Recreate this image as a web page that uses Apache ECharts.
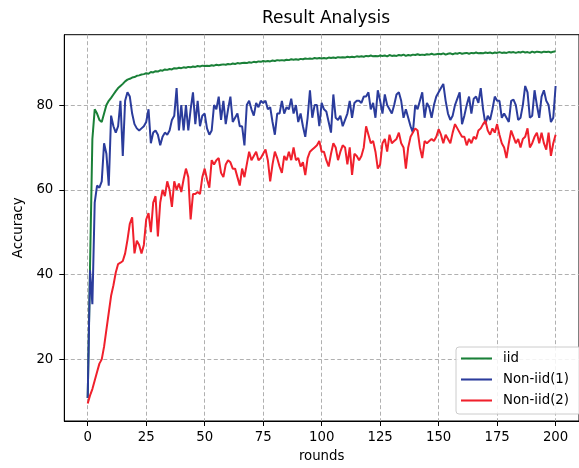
<!DOCTYPE html>
<html><head><meta charset="utf-8">
<script src="https://cdn.jsdelivr.net/npm/echarts@6/dist/echarts.min.js"></script>
<style>html,body{margin:0;padding:0;background:#fff}#c{width:579px;height:468px}</style>
</head><body><div id="c"></div>
<script>
const iid = [10.9,42,72,79,78,76.5,76,78,80,81,81.7,82.5,83.3,84,84.5,85,85.6,86,86.2,86.5,86.6,86.9,87,87.2,87.3,87.5,
87.4,87.8,87.7,88.0,87.9,88.2,88.1,88.4,88.3,88.5,88.4,88.7,88.6,88.8,88.7,88.9,88.8,89.0,88.9,89.1,89.0,89.2,89.1,89.3,89.2,
89.3,89.2,89.4,89.3,89.5,89.4,89.5,89.6,89.5,89.7,89.6,89.8,89.7,89.9,89.8,89.9,90.0,89.9,90.1,90.0,90.2,90.1,90.3,90.2,90.4,
90.3,90.4,90.3,90.5,90.4,90.6,90.5,90.6,90.5,90.7,90.6,90.8,90.7,90.8,90.7,90.9,90.8,91.0,90.9,91.0,90.9,91.1,91.0,91.1,91.0,
91.1,91.0,91.2,91.1,91.2,91.1,91.3,91.2,91.3,91.2,91.4,91.3,91.4,91.3,91.5,91.4,91.5,91.4,91.6,91.5,91.7,91.5,91.6,91.5,91.7,
91.6,91.7,91.5,91.8,91.6,91.7,91.6,91.8,91.7,91.9,91.6,91.8,91.7,91.9,91.8,92.0,91.8,91.9,91.8,92.0,91.9,92.1,91.9,92.0,92.1,
92.0,92.2,91.9,92.1,92.2,92.0,92.2,92.1,92.3,92.1,92.2,92.3,92.1,92.3,92.2,92.4,92.2,92.3,92.2,92.4,92.3,92.4,92.2,92.4,92.3,
92.5,92.3,92.4,92.3,92.5,92.4,92.5,92.3,92.5,92.4,92.6,92.4,92.5,92.3,92.6,92.4,92.6,92.5,92.4,92.6,92.5,92.6,92.4,92.6,92.7];

const nonIid1 = [10.9,41,33,57,61,60.5,62,71,68.5,61,77.5,75,73.5,75,81,68,81,83,82,78,75.5,74.5,74,74.5,75,76,
79,71,73.5,74,73,70.5,72.5,73.5,73,74,76.5,77.5,84,74,80,74,80,74,79,83,75.5,81,75,77.5,78,
74.5,73,74,80,79,82,76.5,81,75.5,79,82,76,77,78,75,75,70.5,80,81,79,77.5,80.5,79.5,81,80.5,
81,79,79.5,76,73,78,78,81,78,79.5,79,81.5,78,80,76,78,75,72.5,77,83.5,77,80,80,75,80.5,
79,78.5,76,73.5,82.5,77,76.5,77.5,75,76.5,78,81,77,80.5,81,81,80.5,82,82,83,79,80.5,77,83.5,81,
78,82.5,80,79,78,80,82.5,83,81,77,79,77,75,73.5,80,79,81,83,77,80.5,79.5,77,80,82,83,
84,85,81,78,76.5,77.5,80,81.5,83,75.5,77.5,80,82,78,81.5,82,80.5,84,79,75.5,77.5,76.5,79,82,81,
81,77,78,77,76,81,81.3,80,76.5,77,80,84.5,83,77,77.5,83.5,80,77,82,83.5,81,80,76,77,84.5];

const nonIid2 = [9.6,11.5,13,15,17,19,20,23,27,31,35,37.5,40.5,42.5,42.8,43.2,45,48.2,52,53.5,45,48,47,45,47,53,
54.5,50,57,58.5,49,57,60,58.5,62,60,56,62,60,61.5,59.5,62.5,65,63,53,59,59,59.5,59,63,65,62.5,60.5,
67,66,67,67.5,64,63,66,67,66.5,65,65,63,61,65,63,66,69,67,68,69,67,67.5,68.5,69.5,67,62,
66,69,67.5,65.5,64,68,67,69,67,70,67,67.5,65.5,66.5,63.5,67.5,69,69.5,70,70.5,71.5,69,69,67,65.5,68.5,71,
70,67,69,70.5,70,66,70,63.5,68.5,68,67,68,70,75,73,71,71.5,69,65,66,71,72,69,73,71,71.5,72,73.5,71,70,
65,70,72.5,73.5,74.5,74,70,67.5,71.5,71,71.5,72,71.5,72.5,74.3,73,71,73,72,71,73.5,75.5,74.5,73.5,72.5,72.5,70.5,
72,71,72.5,72,74,74.5,75.5,76.3,74,73,74.5,73.5,75.5,73,71,70,67.5,71,74,72.5,71,72,70,72,72.5,74.5,70,71,72.5,73.5,71,73.5,71,69.5,73.5,68,71,73];

const rounds = iid.map((_, i) => i);
const xTicks = [0, 25, 50, 75, 100, 125, 150, 175, 200];
const yTicks = [20, 40, 60, 80];
const seriesNames = ['iid', 'Non-iid(1)', 'Non-iid(2)'];
const seriesValues = [iid, nonIid1, nonIid2];
const colors = ['#1a8038', '#2b3c9c', '#f0202c'];

const FONT = 'DejaVu Sans';
const chart = echarts.init(document.getElementById('c'), null, {renderer: 'canvas'});
const gridLine = {show: true, lineStyle: {color: '#b0b0b0', width: 1, type: [4, 2.5]}};
chart.setOption({
  animation: false,
  backgroundColor: '#fff',
  title: {text: 'Result Analysis', left: 326, top: 10, textAlign: 'center', padding: 0,
    textStyle: {fontFamily: FONT, fontSize: 17, fontWeight: 'normal', color: '#000'}},
  grid: {left: 64.3, top: 34.7, width: 522.7, height: 390.3, show: true, borderColor: '#000', borderWidth: 1, backgroundColor: 'transparent'},
  legend: {orient: 'vertical', left: 456, top: 347, itemWidth: 31, itemHeight: 14, itemGap: 8,
    icon: 'path://M0,0L30,0L30,2L0,2Z',
    padding: [5, 12, 7, 5], borderColor: '#cccccc', borderWidth: 1, borderRadius: 3, backgroundColor: 'rgba(255,255,255,0.85)',
    textStyle: {fontFamily: FONT, fontSize: 13.3, color: '#000', padding: [0, 0, 0, 6]},
    data: seriesNames},
  xAxis: {type: 'value', min: -10, max: 210,
    name: 'rounds', nameLocation: 'middle', nameGap: 29,
    nameTextStyle: {fontFamily: FONT, fontSize: 13.3, color: '#000'},
    axisLine: {show: true, onZero: false, lineStyle: {color: '#000', width: 1}},
    axisTick: {show: true, length: 5, customValues: xTicks, lineStyle: {color: '#000', width: 1}},
    axisLabel: {customValues: xTicks, margin: 10, fontFamily: FONT, fontSize: 13.3, color: '#000'},
    splitLine: gridLine},
  yAxis: {type: 'value', min: 5.46, max: 96.6,
    name: 'Accuracy', nameLocation: 'middle', nameGap: 35, nameRotate: 90,
    nameTextStyle: {fontFamily: FONT, fontSize: 13.3, color: '#000'},
    axisLine: {show: true, onZero: false, lineStyle: {color: '#000', width: 1}},
    axisTick: {show: true, length: 5, customValues: yTicks, lineStyle: {color: '#000', width: 1}},
    axisLabel: {customValues: yTicks, margin: 11, fontFamily: FONT, fontSize: 13.3, color: '#000'},
    splitLine: gridLine},
  series: seriesNames.map((name, k) => ({
    name, type: 'line', symbol: 'none', showSymbol: false,
    data: rounds.map((r, i) => [r, seriesValues[k][i]]),
    lineStyle: {color: colors[k], width: 2}, itemStyle: {color: colors[k]}
  }))
});
</script></body></html>
